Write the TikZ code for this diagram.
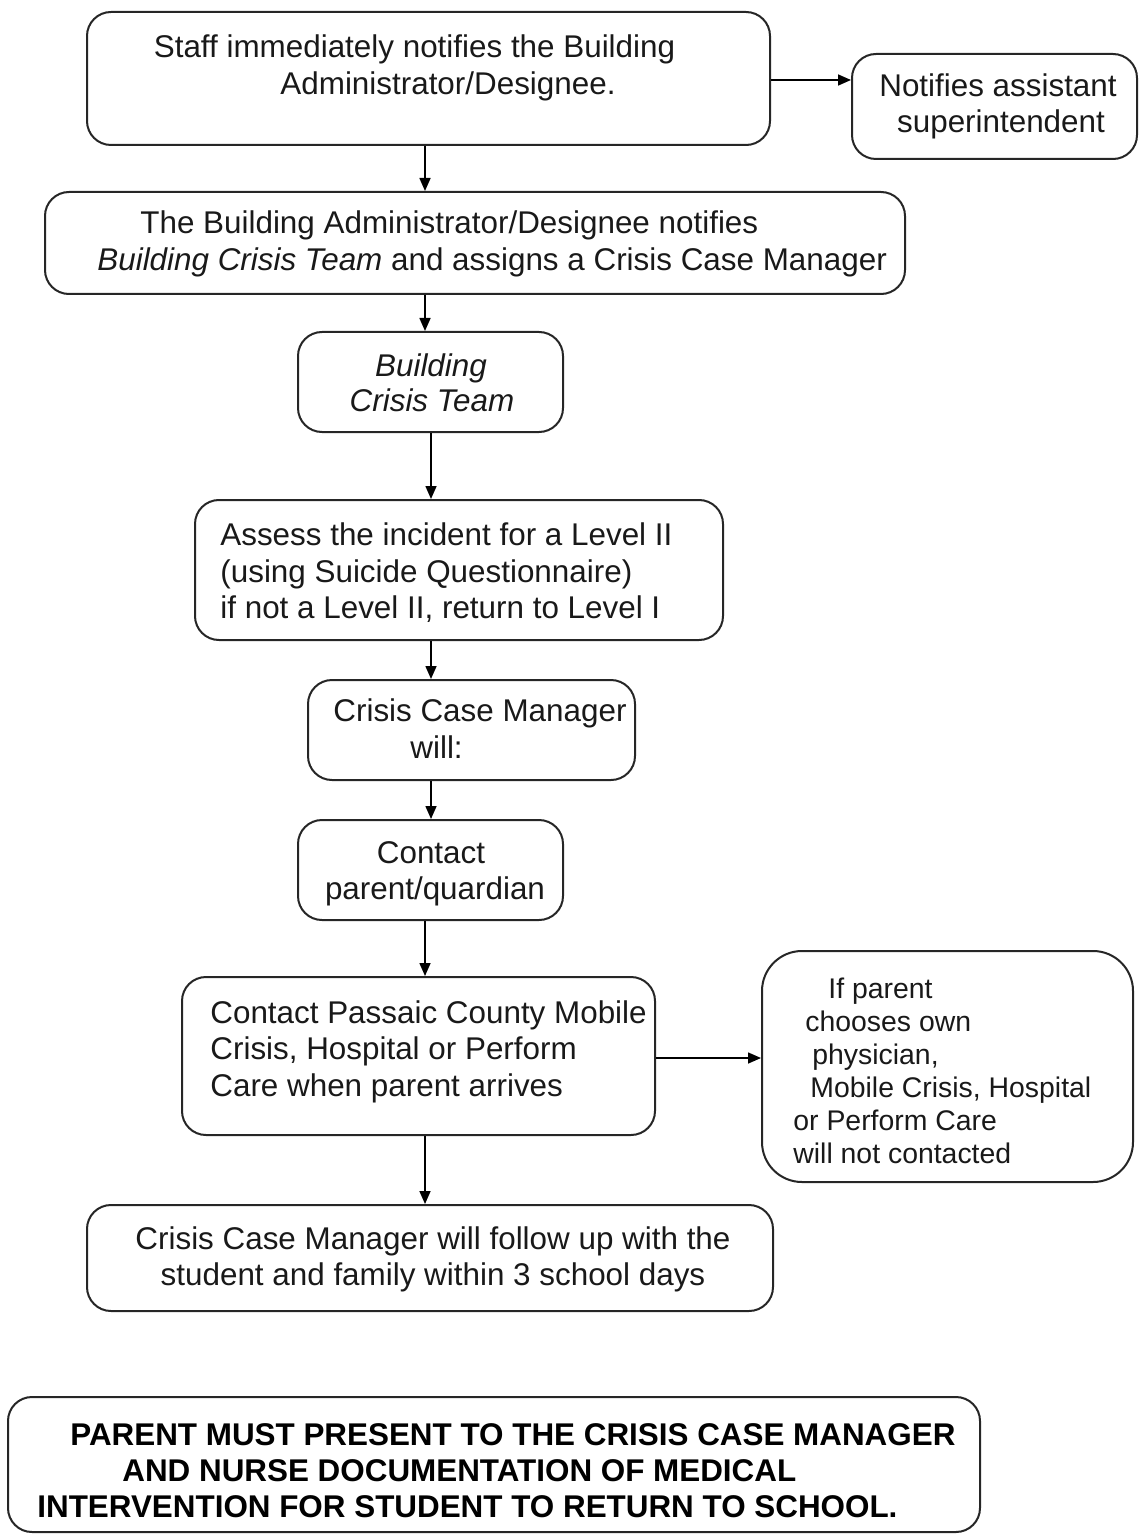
\documentclass[tikz,border=0pt]{standalone}
\usepackage{fontspec}
\setmainfont{Liberation Sans}
\usetikzlibrary{arrows.meta,fit}
\begin{document}
\begin{tikzpicture}[x=0.5pt,y=-0.5pt,
  box/.style={draw=black!85,line width=1pt,rounded corners=12pt,inner sep=0pt},
  bigbox/.style={box,rounded corners=20pt},
  txt/.style={inner sep=0pt,font=\fontsize{15.7pt}{18.5pt}\selectfont,text=black!90},
  small/.style={inner sep=0pt,font=\fontsize{14.2pt}{16.5pt}\selectfont,text=black!90},
  loud/.style={inner sep=0pt,font=\fontsize{15.7pt}{18.5pt}\selectfont\bfseries,text=black},
  arr/.style={draw=black,line width=0.8pt,-{Triangle[length=6.5pt,width=5.5pt]}}]
\useasboundingbox (0,0) rectangle (1139,1535);

% boxes
\node[box,fit={(87,12) (770,145)}] (A) {};
\node[box,fit={(852,54) (1137,159)}] (B) {};
\node[box,fit={(45,192) (905,294)}] (C) {};
\node[box,fit={(298,332) (563,432)}] (D) {};
\node[box,fit={(195,500) (723,640)}] (E) {};
\node[box,fit={(308,680) (635,780)}] (F) {};
\node[box,fit={(298,820) (563,920)}] (G) {};
\node[box,fit={(182,977) (655,1135)}] (H) {};
\node[bigbox,fit={(762,951) (1133,1182)}] (I) {};
\node[box,fit={(87,1205) (773,1311)}] (J) {};
\node[box,fit={(8,1397) (980,1532)}] (K) {};

% texts
\node[txt,anchor=base] (a1) at (414.5,58) {Staff immediately notifies the Building};
\node[txt,anchor=base] (a2) at (448,95) {Administrator/Designee.};
\node[txt,anchor=base] (b1) at (998,97) {Notifies assistant};
\node[txt,anchor=base] (b2) at (1001,133) {superintendent};
\node[txt,anchor=base west] (c1) at (140,234) {The Building Administrator/Designee notifies};
\node[txt,anchor=base west] (c2) at (97,271) {\itshape Building Crisis Team\upshape{} and assigns a Crisis Case Manager};
\node[txt,anchor=base] (d1) at (431,376) {\itshape Building};
\node[txt,anchor=base] (d2) at (432,411) {\itshape Crisis Team};
\node[txt,anchor=base west] (e1) at (220,545) {Assess the incident for a Level II};
\node[txt,anchor=base west] (e2) at (220,582) {(using Suicide Questionnaire)};
\node[txt,anchor=base west] (e3) at (220,618) {if not a Level II, return to Level I};
\node[txt,anchor=base west] (f1) at (333,721) {Crisis Case Manager};
\node[txt,anchor=base west] (f2) at (410,758) {will:};
\node[txt,anchor=base] (g1) at (431,863) {Contact};
\node[txt,anchor=base] (g2) at (435,899) {parent/quardian};
\node[txt,anchor=base west] (h1) at (210,1023) {Contact Passaic County Mobile};
\node[txt,anchor=base west] (h2) at (210,1059) {Crisis, Hospital or Perform};
\node[txt,anchor=base west] (h3) at (210,1096) {Care when parent arrives};
\node[small,anchor=base west] (i1) at (828,998) {If parent};
\node[small,anchor=base west] (i2) at (805,1031) {chooses own};
\node[small,anchor=base west] (i3) at (812,1064) {physician,};
\node[small,anchor=base west] (i4) at (810,1097) {Mobile Crisis, Hospital};
\node[small,anchor=base west] (i5) at (793,1130) {or Perform Care};
\node[small,anchor=base west] (i6) at (793,1163) {will not contacted};
\node[txt,anchor=base] (j1) at (433,1249) {Crisis Case Manager will follow up with the};
\node[txt,anchor=base] (j2) at (433,1285) {student and family within 3 school days};
\node[loud,anchor=base west] (k1) at (70,1445) {PARENT MUST PRESENT TO THE CRISIS CASE MANAGER};
\node[loud,anchor=base west] (k2) at (122,1481) {AND NURSE DOCUMENTATION OF MEDICAL};
\node[loud,anchor=base west] (k3) at (37,1517) {INTERVENTION FOR STUDENT TO RETURN TO SCHOOL.};

% connector guides
\coordinate (xa) at (425,0);
\coordinate (xb) at (431,0);
\coordinate (ya) at (0,80);
\coordinate (yb) at (0,1058);

% connectors
\draw[arr] (A.east |- ya) -- (B.west |- ya);
\draw[arr] (xa |- A.south) -- (xa |- C.north);
\draw[arr] (xa |- C.south) -- (xa |- D.north);
\draw[arr] (xb |- D.south) -- (xb |- E.north);
\draw[arr] (xb |- E.south) -- (xb |- F.north);
\draw[arr] (xb |- F.south) -- (xb |- G.north);
\draw[arr] (xa |- G.south) -- (xa |- H.north);
\draw[arr] (H.east |- yb) -- (I.west |- yb);
\draw[arr] (xa |- H.south) -- (xa |- J.north);
\end{tikzpicture}
\end{document}
